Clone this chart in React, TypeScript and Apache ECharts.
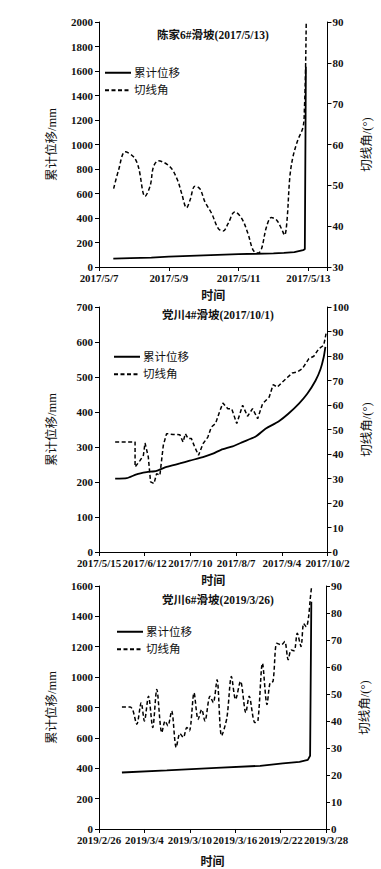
import React, { useEffect, useRef } from "react";
import * as echarts from "echarts";

// ---------- Chart 1: 陈家6#滑坡 (x = days since 2017/5/7) ----------
const c1Title = "陈家6#滑坡(2017/5/13)";
const c1XLabels = ["2017/5/7", "2017/5/9", "2017/5/11", "2017/5/13"];
const c1DispDays = [0.41, 0.9, 1.5, 2.0, 3.0, 4.0, 4.5, 5.0, 5.3, 5.6, 5.85, 5.9, 5.93];
const c1Disp = [68, 72, 76, 85, 95, 105, 108, 112, 115, 122, 138, 145, 1635];
const c1AngDays = [0.42, 0.56, 0.75, 0.99, 1.13, 1.32, 1.47, 1.56, 1.7, 2.04, 2.25, 2.37, 2.51, 2.61, 2.75, 2.89, 3.04, 3.23, 3.42, 3.56, 3.7, 3.89, 4.09, 4.27, 4.42, 4.56, 4.66, 4.8, 4.94, 5.09, 5.23, 5.32, 5.39, 5.47, 5.56, 5.7, 5.85, 5.89, 5.92, 5.94];
const c1Ang = [49.2, 53.7, 58.2, 57, 54.5, 47.3, 50, 54.5, 56, 54.5, 51.3, 48, 44.5, 46.4, 49.8, 49.2, 45.9, 43.1, 39.4, 38.8, 40.6, 43.5, 41.9, 38.2, 34.1, 33.4, 34.5, 39.8, 42.1, 41.5, 39.4, 37.8, 41.5, 52, 57, 61.1, 64.3, 69.2, 78.2, 89.7];

// ---------- Chart 2: 党川4#滑坡 (x = days since 2017/5/15) ----------
const c2Title = "党川4#滑坡(2017/10/1)";
const c2XLabels = ["2017/5/15", "2017/6/12", "2017/7/10", "2017/8/7", "2017/9/4", "2017/10/2"];
const c2DispDays = [9.9, 17, 23, 29.2, 35.3, 41.4, 49.5, 55.6, 63.7, 69.8, 74.8, 81.9, 88, 96, 102, 110, 116, 122.5, 127.6, 132.7, 135.7, 137.7, 138.7];
const c2Disp = [209.5, 211, 222, 228, 232, 243, 253, 261, 271, 281, 292, 302, 314, 330, 352, 373, 395, 424, 452, 490, 522, 557, 586];
const c2AngDays = [9.9, 22.1, 22.1, 25.2, 27.2, 28.2, 30.2, 31.6, 33.7, 35.3, 37.3, 39.4, 41.4, 45.4, 49.5, 51.5, 52.9, 54.6, 56.6, 58.6, 61, 63.7, 66.7, 68.8, 71.4, 73.8, 75.9, 78.9, 81.3, 84.4, 88, 91, 94.1, 97.2, 100.2, 104.3, 106.7, 109.3, 112.4, 115.4, 118.5, 121.5, 124.5, 128.6, 131.6, 134.7, 137.7, 139.1];
const c2Ang = [44.9, 44.9, 34.7, 37.4, 39.5, 44.5, 38.8, 28.6, 27.9, 32, 31.3, 43.5, 48.3, 48, 47.9, 44.9, 48.3, 46.3, 46.3, 42.9, 39.5, 44.2, 46.9, 51, 52.4, 57.1, 60.8, 58.5, 58.5, 52.4, 59.9, 55.4, 58.5, 54.4, 60.5, 63.3, 68.3, 67.3, 69.4, 71.2, 73.1, 73.5, 74.8, 78.9, 79.9, 83, 84.4, 89.1];

// ---------- Chart 3: 党川6#滑坡 (x = days since 2019/2/26) ----------
const c3Title = "党川6#滑坡(2019/3/26)";
const c3XLabels = ["2019/2/26", "2019/3/4", "2019/3/10", "2019/3/16", "2019/2/22", "2019/3/28"];
const c3DispDays = [3.03, 8.96, 15.5, 21.3, 24.3, 26.5, 27.6, 27.9, 28.06];
const c3Disp = [372, 386, 403, 416, 432, 442, 455, 482, 1497];
const c3AngDays = [3.03, 4.13, 4.48, 5.0, 5.58, 6.0, 6.54, 7.1, 7.64, 8.3, 8.74, 9.1, 9.6, 10.2, 10.7, 11.15, 11.6, 11.95, 12.56, 13.1, 13.57, 14.0, 14.67, 15.1, 15.6, 16.2, 16.9, 17.5, 18.05, 18.7, 19.4, 19.85, 20.6, 21.0, 21.6, 22.2, 22.6, 23.0, 23.5, 24.1, 24.55, 25.0, 25.4, 25.8, 26.2, 26.7, 27.05, 27.4, 27.7, 27.9, 28.1];
const c3Ang = [45.2, 45.2, 43.9, 38.8, 46.8, 40, 49.2, 37.6, 51.7, 35.7, 40, 38.2, 43.7, 30.2, 35.4, 33.9, 37.6, 36.4, 50.4, 40.6, 44.3, 40, 49.2, 46.8, 55.3, 34.5, 41.2, 56.5, 48, 54.7, 43.1, 49.2, 39.4, 40, 61.4, 46.1, 54.1, 54.7, 68.8, 68.2, 69.4, 62.7, 66.3, 66, 72.5, 67.6, 76.1, 74.9, 78.6, 84.7, 90];

const dispName = "累计位移";
const angName = "切线角";

const FONT = "'Liberation Serif', 'Noto Sans CJK SC', serif";
const INK = "#111";

const pairs = (xs: number[], ys: number[]) => xs.map((x, i) => [x, ys[i]]);

interface ChartCfg {
  title: string;
  titleX: number;
  titleY: number;
  grid: { left: number; top: number; width: number; height: number };
  xMax: number;
  xInterval: number;
  xLabels: string[];
  xNameGap: number;
  left: { max: number; interval: number };
  right: { min: number; max: number; interval: number };
  legendLeft: number;
  legendTop: number;
  smooth: number | boolean;
  disp: number[][];
  ang: number[][];
}

const charts: ChartCfg[] = [
  {
    title: c1Title, titleX: 213, titleY: 35,
    grid: { left: 99, top: 22, width: 229, height: 245 },
    xMax: 6.55, xInterval: 2, xLabels: c1XLabels, xNameGap: 23,
    left: { max: 2000, interval: 200 }, right: { min: 30, max: 90, interval: 10 },
    legendLeft: 104, legendTop: 67, smooth: 0.35,
    disp: pairs(c1DispDays, c1Disp), ang: pairs(c1AngDays, c1Ang),
  },
  {
    title: c2Title, titleX: 218, titleY: 315,
    grid: { left: 99, top: 307, width: 229, height: 245 },
    xMax: 140, xInterval: 28, xLabels: c2XLabels, xNameGap: 23,
    left: { max: 700, interval: 100 }, right: { min: 0, max: 100, interval: 10 },
    legendLeft: 113, legendTop: 351, smooth: false,
    disp: pairs(c2DispDays, c2Disp), ang: pairs(c2AngDays, c2Ang),
  },
  {
    title: c3Title, titleX: 218, titleY: 600,
    grid: { left: 99, top: 586, width: 227, height: 245 },
    xMax: 30, xInterval: 6, xLabels: c3XLabels, xNameGap: 27,
    left: { max: 1600, interval: 200 }, right: { min: 0, max: 90, interval: 10 },
    legendLeft: 116, legendTop: 626, smooth: 0.3,
    disp: pairs(c3DispDays, c3Disp), ang: pairs(c3AngDays, c3Ang),
  },
];

export default function App() {
  const ref = useRef<HTMLDivElement>(null);

  useEffect(() => {
    if (!ref.current) return;
    const chart = echarts.init(ref.current, undefined, { renderer: "svg" });

    const axisLine = { show: true, lineStyle: { color: "#000", width: 1 } };
    const axisTick = { show: true, inside: false, length: 4, lineStyle: { color: "#000", width: 1 } };
    const labelStyle = { fontSize: 11, fontWeight: "bold" as const, color: INK, fontFamily: FONT };
    const nameStyle = { fontSize: 12.5, color: INK, fontFamily: FONT };
    const plain = (v: number) => String(v);

    const grid: any[] = [];
    const xAxis: any[] = [];
    const yAxis: any[] = [];
    const series: any[] = [];
    const legend: any[] = [];
    const graphic: any[] = [];

    charts.forEach((c, i) => {
      grid.push({ ...c.grid, containLabel: false });
      xAxis.push({
        type: "value",
        gridIndex: i,
        min: 0,
        max: c.xMax,
        interval: c.xInterval,
        axisLine,
        axisTick,
        splitLine: { show: false },
        axisLabel: {
          ...labelStyle,
          fontSize: 10.9,
          margin: 6,
          formatter: (v: number) => {
            const k = v / c.xInterval;
            const r = Math.round(k);
            return Math.abs(k - r) < 1e-6 ? c.xLabels[r] ?? "" : "";
          },
        },
        name: "时间",
        nameLocation: "middle",
        nameGap: c.xNameGap,
        nameTextStyle: { ...nameStyle, fontSize: 12, fontWeight: "bold" },
      });
      yAxis.push({
        type: "value",
        gridIndex: i,
        position: "left",
        min: 0,
        max: c.left.max,
        interval: c.left.interval,
        axisLine,
        axisTick,
        splitLine: { show: false },
        axisLabel: { ...labelStyle, margin: 6, formatter: plain },
        name: "累计位移/mm",
        nameLocation: "middle",
        nameGap: 41,
        nameRotate: 90,
        nameTextStyle: nameStyle,
      });
      yAxis.push({
        type: "value",
        gridIndex: i,
        position: "right",
        min: c.right.min,
        max: c.right.max,
        interval: c.right.interval,
        axisLine,
        axisTick,
        splitLine: { show: false },
        axisLabel: { ...labelStyle, margin: 5, formatter: plain },
        name: "切线角/(°)",
        nameLocation: "middle",
        nameGap: 33,
        nameRotate: 90,
        nameTextStyle: nameStyle,
      });
      series.push({
        name: dispName,
        type: "line",
        xAxisIndex: i,
        yAxisIndex: 2 * i,
        data: c.disp,
        symbol: "none",
        smooth: i === 1 ? 0.2 : false,
        lineStyle: { color: "#000", width: 1.8, type: "solid" },
        itemStyle: { color: "#000" },
        z: 3,
      });
      series.push({
        name: angName,
        type: "line",
        xAxisIndex: i,
        yAxisIndex: 2 * i + 1,
        data: c.ang,
        symbol: "none",
        smooth: c.smooth,
        lineStyle: { color: "#000", width: 1.5, type: [4, 2.5] },
        itemStyle: { color: "#000" },
        z: 2,
      });
      legend.push({
        data: [dispName, angName],
        orient: "vertical",
        left: c.legendLeft,
        top: c.legendTop,
        itemWidth: 26,
        itemHeight: 10,
        itemGap: 6,
        padding: 0,
        selectedMode: false,
        itemStyle: { opacity: 0, borderWidth: 0 },
        textStyle: { fontSize: 11.5, color: INK, fontFamily: FONT, padding: [0, 0, 0, -2] },
      });
      graphic.push({
        type: "text",
        x: c.titleX,
        y: c.titleY,
        style: {
          text: c.title,
          fontSize: 11.5,
          fontFamily: FONT,
          fontWeight: "bold",
          fill: INK,
          textAlign: "center",
          textVerticalAlign: "middle",
        },
      });
    });

    chart.setOption({
      animation: false,
      backgroundColor: "#fff",
      grid,
      xAxis,
      yAxis,
      series,
      legend,
      graphic,
    });

    return () => chart.dispose();
  }, []);

  return (
    <div
      ref={ref}
      style={{ position: "absolute", left: 0, top: 0, width: 381, height: 869, background: "#fff" }}
    />
  );
}
